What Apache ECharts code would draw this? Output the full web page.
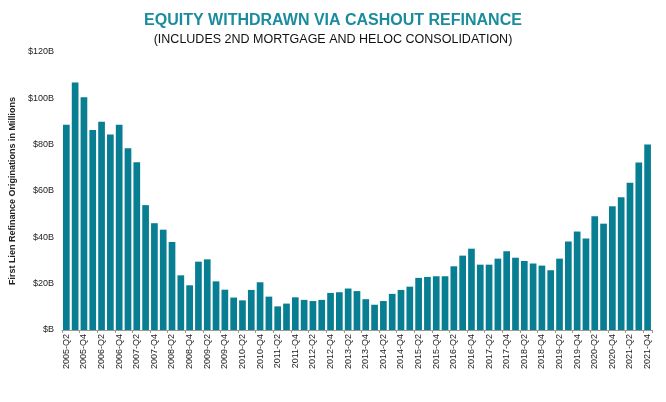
<!DOCTYPE html>
<html><head><meta charset="utf-8">
<script src="https://cdn.jsdelivr.net/npm/echarts@6/dist/echarts.min.js"></script>
<style>html,body{margin:0;padding:0;background:#fff}#c{width:666px;height:402px}</style>
</head><body><div id="c"></div>
<script>
const years = [2005,2006,2007,2008,2009,2010,2011,2012,2013,2014,2015,2016,2017,2018,2019,2020,2021];
const categories = [];
years.forEach(y => { for (let q = 1; q <= 4; q++) { if (y === 2005 && q === 1) continue; categories.push(y + '-Q' + q); } });
// Cash-out equity withdrawn, $ billions
const values = [
  88.6, 106.8, 100.5,
  86.3, 89.9, 84.4, 88.6,
  78.5, 72.4, 53.9, 46.1,
  43.3, 38.0, 23.6, 19.3,
  29.5, 30.5, 21.0, 17.4,
  14.0, 12.8, 17.3, 20.6,
  14.4, 10.2, 11.4, 14.1,
  13.0, 12.5, 13.0, 16.0,
  16.3, 17.9, 16.8, 13.3,
  10.9, 12.5, 15.6, 17.3,
  18.7, 22.5, 22.9, 23.2,
  23.2, 27.5, 32.1, 35.1,
  28.2, 28.2, 30.8, 34.0,
  31.2, 29.8, 28.7, 27.8,
  25.8, 30.8, 38.2, 42.5,
  39.5, 49.1, 45.9, 53.4,
  57.3, 63.6, 72.3, 80.1
];
const chart = echarts.init(document.getElementById('c'));
chart.setOption({
  animation: false,
  title: [
    { text: 'EQUITY WITHDRAWN VIA CASHOUT REFINANCE', left: 'center', top: 8,
      textStyle: { fontFamily: 'Liberation Sans', fontSize: 16, fontWeight: 'bold', color: '#1b8c9d' } },
    { text: '(INCLUDES 2ND MORTGAGE AND HELOC CONSOLIDATION)', left: 'center', top: 28,
      textStyle: { fontFamily: 'Liberation Sans', fontSize: 12.5, fontWeight: 'normal', color: '#111' } }
  ],
  grid: { left: 57, right: 14, top: 52, bottom: 72 },
  xAxis: {
    type: 'category', data: categories,
    axisLine: { lineStyle: { color: '#999' } },
    axisTick: { show: true, length: 3, lineStyle: { color: '#999' } },
    axisLabel: { interval: 1, rotate: 90, fontSize: 9, color: '#222', fontFamily: 'Liberation Sans', margin: 4 }
  },
  yAxis: {
    type: 'value', min: 0, max: 120, interval: 20,
    name: 'First Lien Refinance Originations in Millions', nameLocation: 'middle', nameGap: 33,
    nameTextStyle: { fontSize: 9, fontWeight: 'bold', color: '#222', fontFamily: 'Liberation Sans' },
    splitLine: { show: false }, axisLine: { show: false }, axisTick: { show: false },
    axisLabel: { fontSize: 9, color: '#222', fontFamily: 'Liberation Sans', margin: 8,
      formatter: v => '$' + (v === 0 ? '' : v) + 'B' }
  },
  series: [{ type: 'bar', data: values, barCategoryGap: '24%',
    itemStyle: { color: '#087e92' } }]
});
</script></body></html>
